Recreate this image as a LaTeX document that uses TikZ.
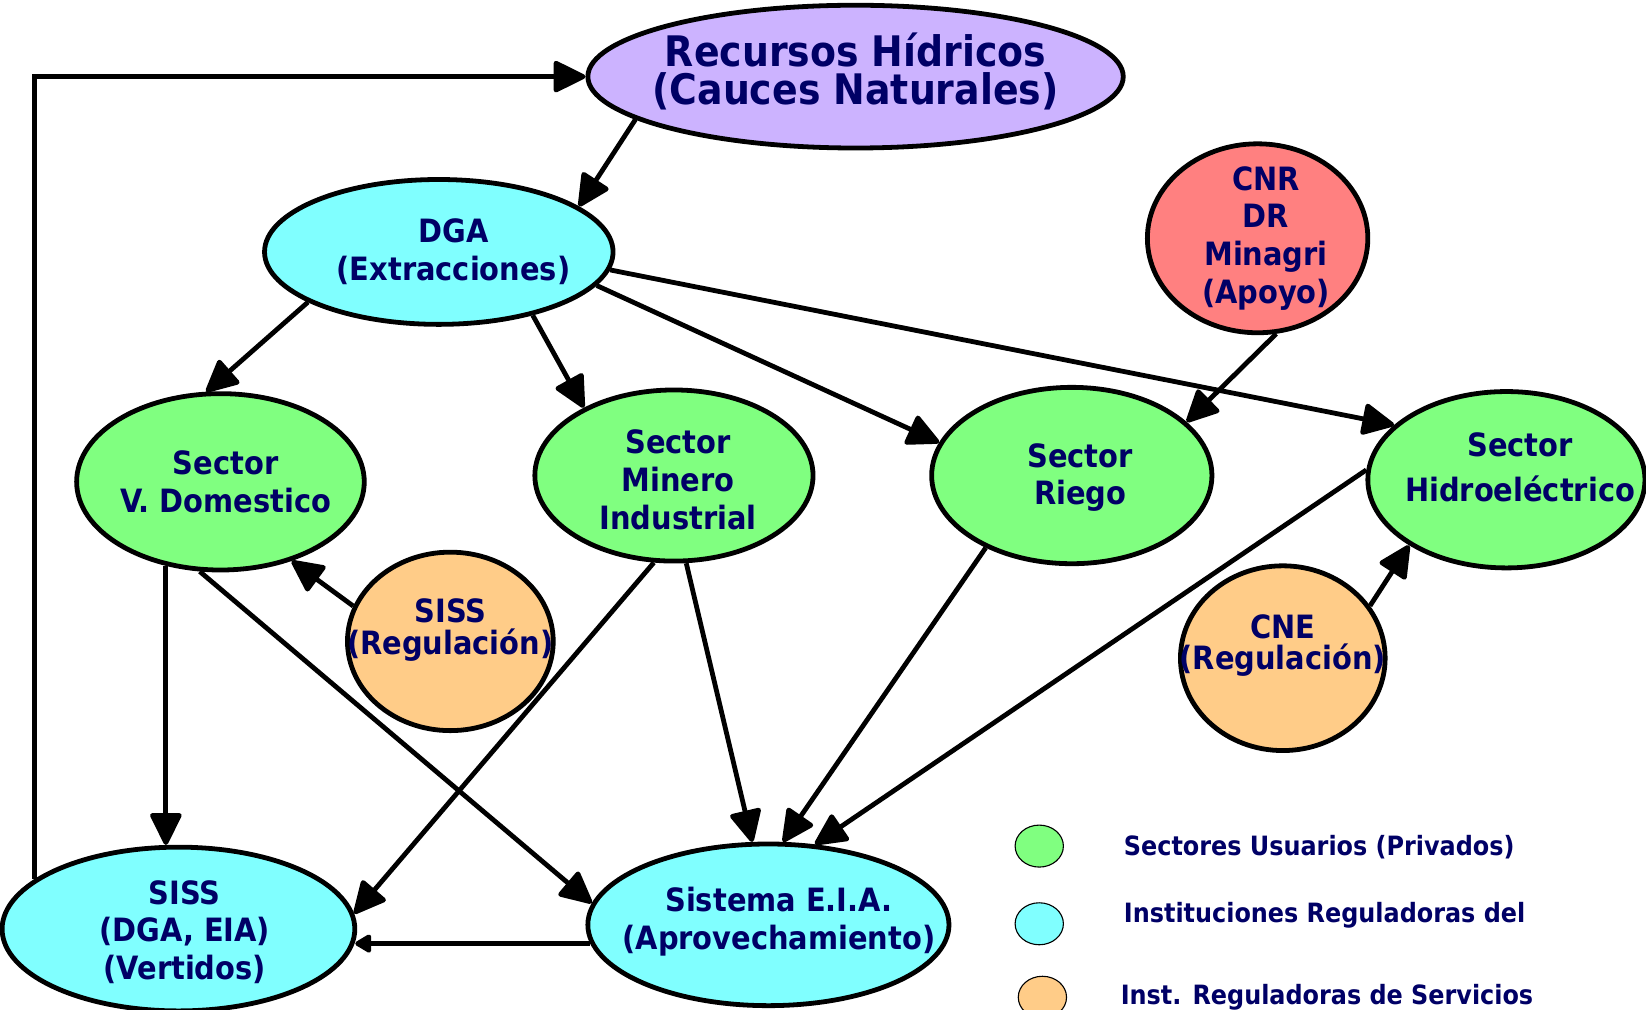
\documentclass[tikz,border=0pt]{standalone}
\usepackage{fontspec}
\setmainfont{DejaVu Sans Condensed}[BoldFont={DejaVu Sans Condensed Bold}]
\usetikzlibrary{shapes.geometric,arrows.meta}

\definecolor{tinta}{HTML}{000066}
\definecolor{lila}{HTML}{CCB3FF}
\definecolor{celeste}{HTML}{80FFFF}
\definecolor{verde}{HTML}{80FF80}
\definecolor{rojo}{HTML}{FF8080}
\definecolor{naranja}{HTML}{FFCC88}

\tikzset{
    elip/.style={ellipse, draw=black, line width=1.3pt, inner sep=0pt},
    texto/.style={align=center, inner sep=0pt, text=tinta, font=\bfseries\fontsize{8.7}{10.2}\selectfont},
    flecha/.style={-{Triangle[round,length=9.5pt,width=9pt]}, line width=1.3pt},
    leyenda/.style={ellipse, draw=black, line width=0.3pt, minimum width=0.46cm, minimum height=0.40cm, inner sep=0pt},
    textoley/.style={anchor=west, inner sep=0pt, text=tinta, font=\bfseries\fontsize{7.2}{8}\selectfont}
}

\begin{document}
\begin{tikzpicture}
    \useasboundingbox (0,0) rectangle (15.68,-9.62);

    % fuente
    \node[elip, fill=lila, minimum width=5.10cm, minimum height=1.36cm,
        label={[texto, yshift=0.05cm, font=\bfseries\fontsize{11.4}{10.2}\selectfont]center:{Recursos Hídricos\\(Cauces Naturales)}}] (recursos) at (8.15,-0.73) {};

    % instituciones
    \node[elip, fill=celeste, minimum width=3.32cm, minimum height=1.38cm,
        label={[texto, xshift=0.14cm]center:{DGA\\(Extracciones)}}] (dga) at (4.18,-2.40) {};
    \node[elip, fill=rojo, minimum width=2.10cm, minimum height=1.80cm,
        label={[texto, xshift=0.08cm]center:{CNR\\DR\\Minagri\\(Apoyo)}}] (cnr) at (11.98,-2.27) {};

    % sectores usuarios
    \node[elip, fill=verde, minimum width=2.74cm, minimum height=1.68cm,
        label={[texto, xshift=0.05cm]center:{Sector\\V. Domestico}}] (vdom) at (2.10,-4.59) {};
    \node[elip, fill=verde, minimum width=2.65cm, minimum height=1.63cm,
        label={[texto, xshift=0.04cm, yshift=-0.04cm]center:{Sector\\Minero\\Industrial}}] (minero) at (6.42,-4.53) {};
    \node[elip, fill=verde, minimum width=2.67cm, minimum height=1.68cm,
        label={[texto, xshift=0.08cm, yshift=-0.02cm]center:{Sector\\Riego}}] (riego) at (10.21,-4.53) {};
    \node[elip, fill=verde, minimum width=2.64cm, minimum height=1.68cm,
        label={[texto, xshift=0.13cm, yshift=0.12cm, font=\bfseries\fontsize{8.7}{12.3}\selectfont]center:{Sector\\Hidroeléctrico}}] (hidro) at (14.35,-4.57) {};

    % reguladoras de servicios
    \node[elip, fill=naranja, minimum width=1.96cm, minimum height=1.70cm,
        label={[texto, yshift=0.11cm, font=\bfseries\fontsize{8.7}{8.6}\selectfont]center:{SISS\\(Regulación)}}] (sissreg) at (4.29,-6.11) {};
    \node[elip, fill=naranja, minimum width=1.95cm, minimum height=1.76cm,
        label={[texto, yshift=0.12cm, font=\bfseries\fontsize{8.7}{8.6}\selectfont]center:{CNE\\(Regulación)}}] (cne) at (12.22,-6.27) {};

    % destino
    \node[elip, fill=celeste, minimum width=3.36cm, minimum height=1.56cm,
        label={[texto, xshift=0.06cm, yshift=-0.03cm]center:{SISS\\(DGA, EIA)\\(Vertidos)}}] (siss) at (1.70,-8.85) {};
    \node[elip, fill=celeste, minimum width=3.44cm, minimum height=1.54cm,
        label={[texto, xshift=0.1cm, yshift=0.03cm]center:{Sistema E.I.A.\\(Aprovechamiento)}}] (sistema) at (7.32,-8.81) {};

    % flechas
    \draw[flecha] (recursos.191) -- (dga.18);
    \draw[flecha] (dga.201) -- (vdom.99);
    \draw[flecha] (dga.326) -- (minero.143);
    \draw[flecha] (dga.348) -- (riego.166);
    \draw[flecha] (dga.354) -- (hidro.154);
    \draw[flecha] (cnr.281) -- (riego.25);
    \draw[flecha] (sissreg.160) -- (vdom.312);
    \draw[flecha] (cne.31) -- (hidro.214);
    \draw[flecha] (vdom.237) -- (vdom.237 |- siss.97);
    \draw[flecha] (vdom.257) -- (sistema.173);
    \draw[flecha] (minero.257) -- (siss.5);
    \draw[flecha] (minero.278) -- (sistema.101);
    \draw[flecha] (riego.220) -- (sistema.80);
    \draw[flecha] (hidro.176) -- (sistema.60);
    \draw[line width=1.3pt, -{Triangle[round,length=5pt,width=5.5pt]}] (sistema.186) -- (siss.356 |- sistema.186);

    % retorno
    \draw[flecha] (siss.161) |- (recursos.west);

    % leyenda
    \node[leyenda, fill=verde] (l1) at (9.90,-8.06) {};
    \node[leyenda, fill=celeste] (l2) at (9.90,-8.80) {};
    \node[leyenda, fill=naranja] (l3) at (9.93,-9.50) {};
    \node[textoley] (t1) at (10.70,-8.07) {Sectores Usuarios (Privados)};
    \node[textoley] (t2) at (10.70,-8.72) {Instituciones Reguladoras del};
    \node[textoley] (t3) at (10.67,-9.50) {Inst. Reguladoras de Servicios};
\end{tikzpicture}
\end{document}
